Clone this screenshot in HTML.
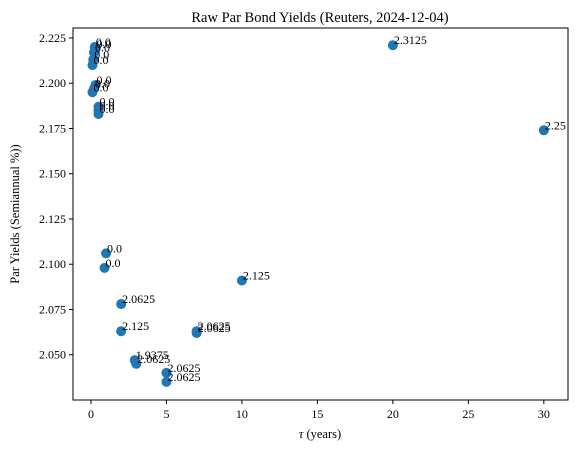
<!DOCTYPE html>
<html><head><meta charset="utf-8"><style>
body{margin:0;background:#fff;font-family:"Liberation Serif",serif;}
svg text{font-family:"Liberation Serif",serif;}
</style></head><body>
<svg id="chart" width="578" height="451" xmlns="http://www.w3.org/2000/svg">
<rect width="578" height="451" fill="#fff"/>
<text x="320" y="22" text-anchor="middle" font-size="14.5">Raw Par Bond Yields (Reuters, 2024-12-04)</text>
<g id="marks"></g>
<rect x="73" y="28" width="495" height="372" fill="none" stroke="#000" stroke-width="1"/>
<g id="axes"></g>
<text x="320" y="438" text-anchor="middle" font-size="12.5"><tspan font-style="italic">τ</tspan> (years)</text>
<text transform="translate(19,214) rotate(-90)" text-anchor="middle" font-size="12.5">Par Yields (Semiannual %))</text>
</svg>
<script>
const tenors=[0.25,0.3,0.2,0.15,0.1,0.3,0.2,0.1,0.5,0.5,0.5,1.0,0.9,2,2,2.9,3,5,5,7,7,10,20,30];
const yields=[2.220,2.219,2.217,2.213,2.210,2.199,2.197,2.195,2.187,2.185,2.183,2.106,2.098,2.078,2.063,2.047,2.045,2.040,2.035,2.062,2.063,2.091,2.221,2.174];
const labels=["0.0","0.0","0.0","0.0","0.0","0.0","0.0","0.0","0.0","0.0","0.0","0.0","0.0","2.0625","2.125","1.9375","2.0625","2.0625","2.0625","2.0625","2.0625","2.125","2.3125","2.25"];
const xTicks=[0,5,10,15,20,25,30];
const yTicks=[2.050,2.075,2.100,2.125,2.150,2.175,2.200,2.225];
const X0=73,X1=568,Y0=400,Y1=28,xmin=-1.19,xmax=31.6,ymin=2.025,ymax=2.2305;
const sx=v=>X0+(v-xmin)/(xmax-xmin)*(X1-X0);
const sy=v=>Y0-(v-ymin)/(ymax-ymin)*(Y0-Y1);
const NS="http://www.w3.org/2000/svg";
const marks=document.getElementById('marks'),axes=document.getElementById('axes');
function mk(t,a,p){const e=document.createElementNS(NS,t);for(const k in a)e.setAttribute(k,a[k]);p.appendChild(e);return e;}
tenors.forEach((t,i)=>{
 const c=mk('circle',{cx:sx(t),cy:sy(yields[i]),r:5,fill:'#1f77b4'},marks);
 
 
});
tenors.forEach((t,i)=>{
 const l=mk('text',{x:sx(t)+1,y:sy(yields[i])-1,'font-size':12},marks);
 l.textContent=labels[i];
 
 
});
xTicks.forEach(v=>{
 const x=sx(v);
 const tk=mk('line',{x1:x,x2:x,y1:400,y2:404,stroke:'#000'},axes);
 
 
 const tl=mk('text',{x:x,y:418,'text-anchor':'middle','font-size':12},axes);
 tl.textContent=v;
 
 
});
yTicks.forEach(v=>{
 const y=sy(v);
 const tk=mk('line',{x1:69,x2:73,y1:y,y2:y,stroke:'#000'},axes);
 
 
 const tl=mk('text',{x:66,y:y+4,'text-anchor':'end','font-size':12},axes);
 tl.textContent=v.toFixed(3);
 
 
});
</script>
</body></html>
